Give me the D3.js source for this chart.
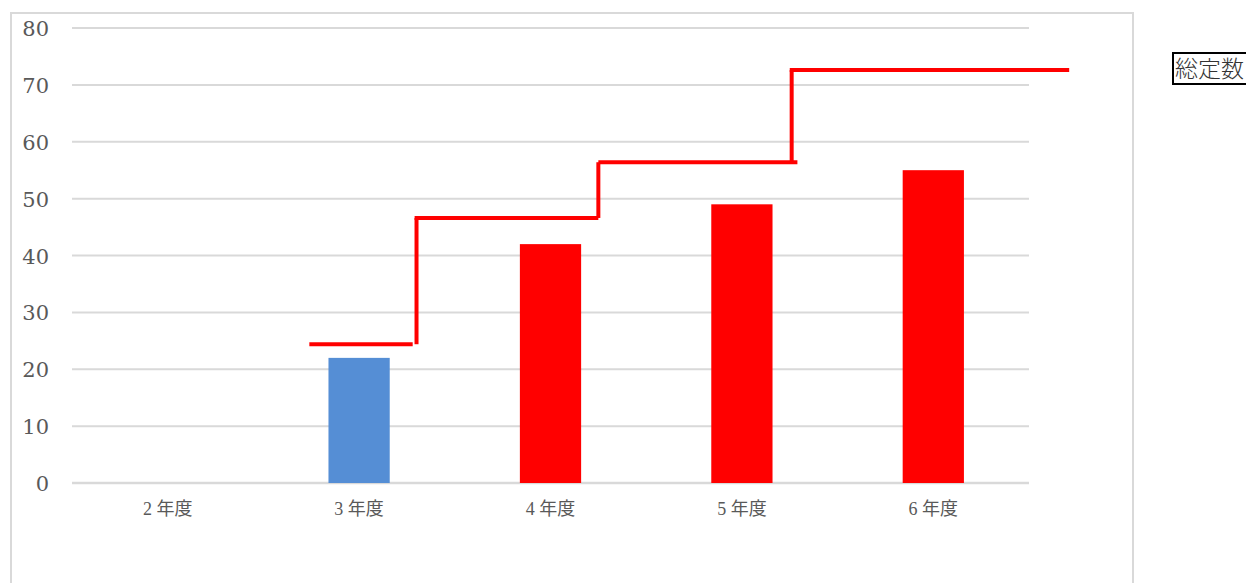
<!DOCTYPE html>
<html>
<head>
<meta charset="utf-8">
<script src="https://cdn.jsdelivr.net/npm/d3@7"></script>
<style>
  body { margin: 0; background: #fff; overflow: hidden; }
</style>
</head>
<body>
<div id="chart"></div>
<script>
// categories along the bottom
var categories = ["2 年度", "3 年度", "4 年度", "5 年度", "6 年度"];
// bar values (2年度 has no bar)
var barValues = [0, 22, 42, 49, 55];
// colour group of each bar: the 3年度 bar is blue, the rest red
var barGroups = ["plan", "actual", "plan", "plan", "plan"];
var yTicks = [0, 10, 20, 30, 40, 50, 60, 70, 80];

// step line of 総定数, x given in category index units
var stepStart = [0.74, 1.29, 2.25, 3.25];
var stepEnd = [1.28, 2.25, 3.29, 4.71];
var stepValue = [24.4, 46.6, 56.4, 72.6];
// risers between the steps
var riserX = [1.30, 2.25, 3.26];

var legendLabel = "総定数";

var width = 1246;
var height = 583;

var plot = { left: 72, right: 1029, top: 28, bottom: 483 };

var svg = d3.select("#chart")
  .append("svg")
  .attr("width", width)
  .attr("height", height);

// chart frame
svg.append("rect")
  .attr("x", 11)
  .attr("y", 13)
  .attr("width", 1122)
  .attr("height", 600)
  .attr("fill", "none")
  .attr("stroke", "#d9d9d9")
  .attr("stroke-width", 2);

var xBand = d3.scaleBand()
  .domain(categories)
  .range([plot.left, plot.right])
  .paddingInner(0.68)
  .paddingOuter(0.34);

var xIndex = d3.scaleLinear()
  .domain([-0.5, categories.length - 0.5])
  .range([plot.left, plot.right]);

var yScale = d3.scaleLinear()
  .domain([0, 80])
  .range([plot.bottom, plot.top]);

var color = d3.scaleOrdinal()
  .domain(["actual", "plan"])
  .range(["#558ed5", "#ff0000"]);

// gridlines
svg.append("g")
  .selectAll("line")
  .data(yTicks)
  .enter()
  .append("line")
  .attr("x1", plot.left)
  .attr("x2", plot.right)
  .attr("y1", function(d) { return yScale(d); })
  .attr("y2", function(d) { return yScale(d); })
  .attr("stroke", "#d9d9d9")
  .attr("stroke-width", function(d) { return d === 0 ? 2.5 : 2; });

// y axis labels
var yAxis = d3.axisLeft(yScale)
  .tickValues(yTicks)
  .tickSize(0)
  .tickPadding(0);

var yG = svg.append("g")
  .attr("transform", "translate(49,0)")
  .call(yAxis);
yG.select(".domain").remove();
yG.selectAll("text")
  .attr("fill", "#595959")
  .attr("font-family", "'DejaVu Serif', 'Liberation Serif', serif")
  .attr("font-size", 21)
  .attr("dy", "0.36em");

// x axis labels
var xAxis = d3.axisBottom(xBand).tickSize(0).tickPadding(0);
var xG = svg.append("g")
  .attr("transform", "translate(0," + (plot.bottom + 32) + ")")
  .call(xAxis);
xG.select(".domain").remove();
xG.selectAll("text")
  .attr("fill", "#595959")
  .attr("font-family", "'Liberation Serif', 'Noto Sans CJK JP', serif")
  .attr("font-size", 18)
  .attr("dy", 0);

// bars
svg.append("g")
  .selectAll("rect")
  .data(categories)
  .enter()
  .append("rect")
  .attr("x", function(d) { return xBand(d); })
  .attr("width", xBand.bandwidth())
  .attr("y", function(d, i) { return yScale(barValues[i]); })
  .attr("height", function(d, i) { return yScale(0) - yScale(barValues[i]); })
  .attr("fill", function(d, i) { return color(barGroups[i]); });

// step line: treads
var steps = svg.append("g")
  .attr("stroke", "#ff0000")
  .attr("stroke-width", 4);

steps.selectAll("line.tread")
  .data(stepValue)
  .enter()
  .append("line")
  .attr("class", "tread")
  .attr("x1", function(d, i) { return xIndex(stepStart[i]); })
  .attr("x2", function(d, i) { return xIndex(stepEnd[i]); })
  .attr("y1", function(d) { return yScale(d); })
  .attr("y2", function(d) { return yScale(d); });

// step line: risers
steps.selectAll("line.riser")
  .data(riserX)
  .enter()
  .append("line")
  .attr("class", "riser")
  .attr("x1", function(d) { return xIndex(d); })
  .attr("x2", function(d) { return xIndex(d); })
  .attr("y1", function(d, i) { return yScale(stepValue[i]); })
  .attr("y2", function(d, i) { return yScale(stepValue[i + 1]); });

// legend box
var legend = svg.append("g")
  .attr("transform", "translate(1173,53)");
legend.append("rect")
  .attr("x", 0)
  .attr("y", 0)
  .attr("width", 80)
  .attr("height", 31)
  .attr("fill", "#fff")
  .attr("stroke", "#000")
  .attr("stroke-width", 2);
legend.append("text")
  .attr("x", 2)
  .attr("y", 24)
  .attr("font-family", "'Noto Sans CJK JP', sans-serif")
  .attr("font-size", 23)
  .attr("font-weight", 300)
  .attr("fill", "#333")
  .text(legendLabel);
</script>
</body>
</html>
